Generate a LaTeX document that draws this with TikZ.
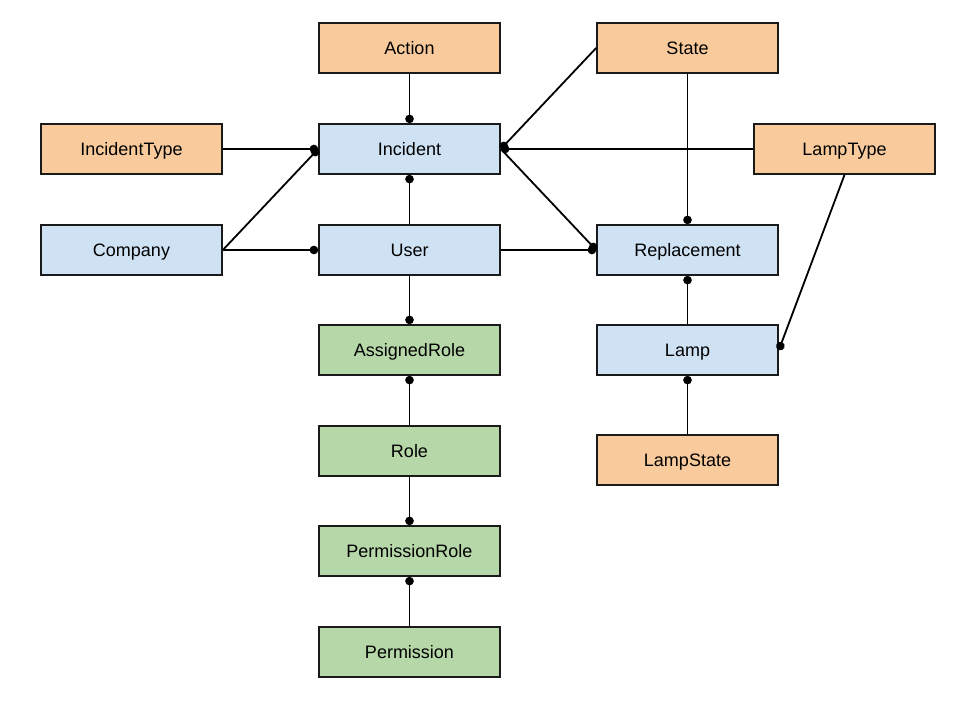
\documentclass[tikz,border=0pt]{standalone}
\usepackage{fontspec}
\setmainfont{Liberation Sans}
\usetikzlibrary{arrows.meta}
\definecolor{orangebox}{HTML}{F9CB9C}
\definecolor{bluebox}{HTML}{CFE2F3}
\definecolor{greenbox}{HTML}{B6D7A8}
\definecolor{ink}{HTML}{1A1A1A}
\tikzset{
  ent/.style={draw=ink, line width=1.7pt, minimum width=181pt, minimum height=50pt, inner sep=0pt, text height=14pt, text depth=1pt, font=\fontsize{18}{20}\selectfont, text=black},
  ora/.style={ent, fill=orangebox},
  blu/.style={ent, fill=bluebox},
  gre/.style={ent, fill=greenbox},
  link/.style={draw=black, line width=1.8pt},
  dot/.style={-{Circle[length=8.5pt,width=8.5pt]}},
}
\begin{document}
\begin{tikzpicture}[x=1pt,y=-1pt]
\useasboundingbox (0,0) rectangle (960,720);
\node[ora] (action) at (409.5,48) {Action};
\node[ora] (state) at (687.5,48) {State};
\node[ora] (itype) at (131.5,149) {IncidentType};
\node[blu] (incident) at (409.5,149) {Incident};
\node[ora] (ltype) at (844.5,149) {LampType};
\node[blu] (company) at (131.5,250) {Company};
\node[blu] (user) at (409.5,250) {User};
\node[blu] (repl) at (687.5,250) {Replacement};
\node[gre] (arole) at (409.5,350) {AssignedRole};
\node[blu] (lamp) at (687.5,350) {Lamp};
\node[gre] (role) at (409.5,451) {Role};
\node[ora] (lstate) at (687.5,460) {LampState};
\node[gre] (prole) at (409.5,551) {PermissionRole};
\node[gre] (perm) at (409.5,652) {Permission};

\draw[link,dot] (action) -- (incident);
\draw[link,dot] (itype) -- (incident);
\draw[link,dot] (company.east) -- (incident.west);
\draw[link,dot] (company) -- (user);
\draw[link,dot] (user) -- (incident);
\draw[link,dot] (state.west) -- (incident.east);
\draw[link,dot] (ltype) -- (incident);
\draw[link,dot] (incident.east) -- (repl.west);
\draw[link,dot] (user) -- (repl);
\draw[link,dot] (state) -- (repl);
\draw[link,dot] (lamp) -- (repl);
\draw[link,dot] (ltype.south) -- (lamp.east);
\draw[link,dot] (lstate) -- (lamp);
\draw[link,dot] (user) -- (arole);
\draw[link,dot] (role) -- (arole);
\draw[link,dot] (role) -- (prole);
\draw[link,dot] (perm) -- (prole);
\end{tikzpicture}
\end{document}
